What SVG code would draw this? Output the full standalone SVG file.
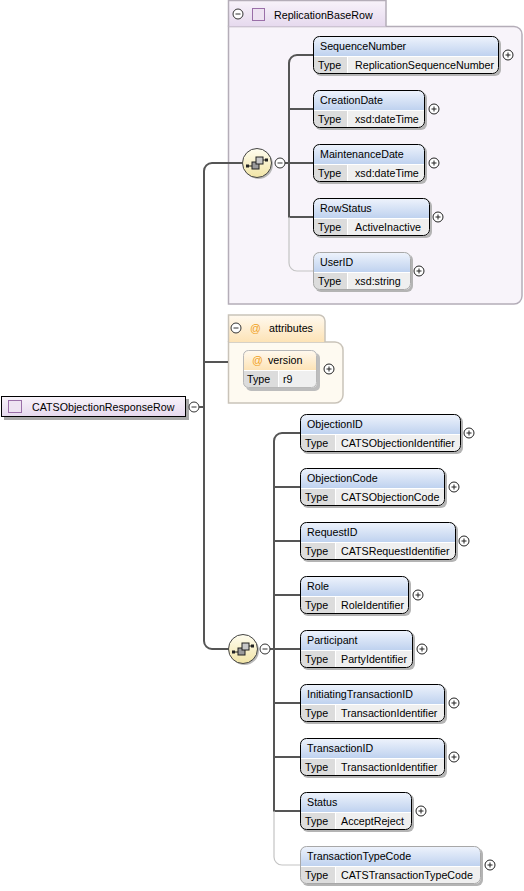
<svg xmlns="http://www.w3.org/2000/svg" width="524" height="891" viewBox="0 0 524 891">
<defs>
<linearGradient id="gHd" x1="0" y1="0" x2="0" y2="1"><stop offset="0" stop-color="#eef3fc"/><stop offset="1" stop-color="#bfd2ef"/></linearGradient>
<linearGradient id="gLav" x1="0" y1="0" x2="0" y2="1"><stop offset="0" stop-color="#f8f3fa"/><stop offset="1" stop-color="#e6d9ee"/></linearGradient>
<linearGradient id="gPeach" x1="0" y1="0" x2="0" y2="1"><stop offset="0" stop-color="#fff9ef"/><stop offset="1" stop-color="#fde3b6"/></linearGradient>
<linearGradient id="gSeq" x1="0" y1="0" x2="0" y2="1"><stop offset="0" stop-color="#fffdf0"/><stop offset="1" stop-color="#f1e4a6"/></linearGradient>
<g id="plus"><circle r="5" fill="#fff" stroke="#222" stroke-width="1"/><path d="M-2.5,0H2.5M0,-2.5V2.5" stroke="#222" stroke-width="1"/></g>
<g id="minus"><circle r="5" fill="#fff" stroke="#333" stroke-width="1"/><path d="M-2.5,0H2.5" stroke="#333" stroke-width="1"/></g>
<g id="seq">
<circle cx="1.5" cy="1.5" r="14.5" fill="#b8b8b8"/>
<circle r="14.5" fill="url(#gSeq)" stroke="#444" stroke-width="1"/>
<path d="M-10,3H-5M6,-3H10" stroke="#222" stroke-width="1.2"/>
<rect x="-11" y="1.5" width="3" height="3" fill="#222"/>
<rect x="8" y="-4.5" width="3" height="3" fill="#222"/>
<rect x="-5" y="-1" width="7" height="7" fill="#9a9a9a" stroke="#222" stroke-width="1"/>
<rect x="-1" y="-6" width="7" height="7" fill="#c8c8c8" stroke="#222" stroke-width="1"/>
</g>
</defs>
<style>
text{font-family:"Liberation Sans",Arial,sans-serif;font-size:10.7px;fill:#000}
.sh{fill:#b4b4b4}
.bg{fill:#efefef}
.hd{fill:url(#gHd)}
.tl{fill:#dcdcdc}
.ol{fill:none;stroke:#000;stroke-width:1}
.olo{fill:none;stroke:#a8a8a8;stroke-width:1}
.sep{stroke:#fff;stroke-width:1}
.cn{fill:none;stroke:#555;stroke-width:2}
.cnl{fill:none;stroke:#c4c4c4;stroke-width:1.2}
.at{fill:#f0a020}
</style>

<g id="CATSObjectionResponseRow">
<rect x="4" y="399" width="185" height="21" fill="#a8a8a8"/>
<rect x="1.5" y="396.5" width="184" height="20" fill="url(#gLav)" stroke="#000" stroke-width="1"/>
<rect x="8.5" y="400.5" width="13" height="12" fill="#eee3f2" stroke="#9a6fa8" stroke-width="1"/>
<text x="32" y="411">CATSObjectionResponseRow</text>
<use href="#minus" x="194" y="407"/>
</g>

<g id="ReplicationBaseRow">
<path d="M228.5,26.5H514A8,8 0 0 1 522,34.5V296A8,8 0 0 1 514,304H228.5Z" fill="#f8f4fa" stroke="#b4adb8" stroke-width="1.5"/>
<path d="M228.5,26.5V0.5H386V26.5" fill="url(#gLav)" stroke="#b4adb8" stroke-width="1.5"/>
<use href="#minus" x="238" y="14"/>
<rect x="252.5" y="8.5" width="12" height="12" fill="#eee3f2" stroke="#9a6fa8" stroke-width="1"/>
<text x="274" y="19">ReplicationBaseRow</text>
</g>

<g id="attributes">
<path d="M228.5,342H335A8,8 0 0 1 343,350V395A8,8 0 0 1 335,403H228.5Z" fill="#fefaf1" stroke="#c9c3b9" stroke-width="1.5"/>
<path d="M228.5,342V315H319A6,6 0 0 1 325,321V342" fill="url(#gPeach)" stroke="#c9c3b9" stroke-width="1.5"/>
<use href="#minus" x="236" y="328"/>
<text class="at" x="250" y="332">@</text>
<text x="269" y="332">attributes</text>
</g>

<g id="connectors">
<path class="cn" d="M243,163H212A8,8 0 0 0 204,171V641A8,8 0 0 0 212,649H229"/>
<path class="cn" d="M199,407H204M204,362H228"/>
<path class="cn" d="M313,55H297A8,8 0 0 0 289,63V217H313M289,109H313M285,163H313"/>
<path class="cnl" d="M289,217V263A8,8 0 0 0 297,271H313"/>
<path class="cn" d="M300,433H282A8,8 0 0 0 274,441V811H300M274,487H300M274,541H300M274,595H300M270,649H300M274,703H300M274,757H300"/>
<path class="cnl" d="M274,811V857A8,8 0 0 0 282,865H300"/>
</g>

<g id="seq1"><use href="#seq" x="257" y="163"/><use href="#minus" x="280" y="163"/></g>

<g id="SequenceNumber" transform="translate(313,36)">
<rect class="sh" x="2" y="2" width="186" height="38" rx="6"/>
<rect class="bg" width="186" height="38" rx="6"/>
<path class="hd" d="M0.5,20V6A5.5,5.5 0 0 1 6,0.5H180A5.5,5.5 0 0 1 185.5,6V20Z"/>
<path class="tl" d="M0.5,20H34V37.5H6A5.5,5.5 0 0 1 0.5,32Z"/>
<path class="sep" d="M1,20.5H185M34.5,21V37"/>
<rect class="ol" x="0.5" y="0.5" width="185" height="37" rx="6"/>
<text x="7" y="14">SequenceNumber</text><text x="5" y="33">Type</text><text x="42" y="33">ReplicationSequenceNumber</text>
<use href="#plus" x="195" y="19"/>
</g>

<g id="CreationDate" transform="translate(313,90)">
<rect class="sh" x="2" y="2" width="112" height="38" rx="6"/>
<rect class="bg" width="112" height="38" rx="6"/>
<path class="hd" d="M0.5,20V6A5.5,5.5 0 0 1 6,0.5H106A5.5,5.5 0 0 1 111.5,6V20Z"/>
<path class="tl" d="M0.5,20H34V37.5H6A5.5,5.5 0 0 1 0.5,32Z"/>
<path class="sep" d="M1,20.5H111M34.5,21V37"/>
<rect class="ol" x="0.5" y="0.5" width="111" height="37" rx="6"/>
<text x="7" y="14">CreationDate</text><text x="5" y="33">Type</text><text x="42" y="33">xsd:dateTime</text>
<use href="#plus" x="121" y="19"/>
</g>

<g id="MaintenanceDate" transform="translate(313,144)">
<rect class="sh" x="2" y="2" width="112" height="38" rx="6"/>
<rect class="bg" width="112" height="38" rx="6"/>
<path class="hd" d="M0.5,20V6A5.5,5.5 0 0 1 6,0.5H106A5.5,5.5 0 0 1 111.5,6V20Z"/>
<path class="tl" d="M0.5,20H34V37.5H6A5.5,5.5 0 0 1 0.5,32Z"/>
<path class="sep" d="M1,20.5H111M34.5,21V37"/>
<rect class="ol" x="0.5" y="0.5" width="111" height="37" rx="6"/>
<text x="7" y="14">MaintenanceDate</text><text x="5" y="33">Type</text><text x="42" y="33">xsd:dateTime</text>
<use href="#plus" x="121" y="19"/>
</g>

<g id="RowStatus" transform="translate(313,198)">
<rect class="sh" x="2" y="2" width="117" height="38" rx="6"/>
<rect class="bg" width="117" height="38" rx="6"/>
<path class="hd" d="M0.5,20V6A5.5,5.5 0 0 1 6,0.5H111A5.5,5.5 0 0 1 116.5,6V20Z"/>
<path class="tl" d="M0.5,20H34V37.5H6A5.5,5.5 0 0 1 0.5,32Z"/>
<path class="sep" d="M1,20.5H116M34.5,21V37"/>
<rect class="ol" x="0.5" y="0.5" width="116" height="37" rx="6"/>
<text x="7" y="14">RowStatus</text><text x="5" y="33">Type</text><text x="42" y="33">ActiveInactive</text>
<use href="#plus" x="125" y="19"/>
</g>

<g id="UserID" transform="translate(313,252)">
<rect class="sh" x="2" y="2" width="98" height="38" rx="6"/>
<rect class="bg" width="98" height="38" rx="6"/>
<path class="hd" d="M0.5,20V6A5.5,5.5 0 0 1 6,0.5H92A5.5,5.5 0 0 1 97.5,6V20Z"/>
<path class="tl" d="M0.5,20H34V37.5H6A5.5,5.5 0 0 1 0.5,32Z"/>
<path class="sep" d="M1,20.5H97M34.5,21V37"/>
<rect class="olo" x="0.5" y="0.5" width="97" height="37" rx="6"/>
<text x="7" y="14">UserID</text><text x="5" y="33">Type</text><text x="42" y="33">xsd:string</text>
<use href="#plus" x="106" y="19"/>
</g>

<g id="version" transform="translate(243,350)">
<rect x="3" y="3" width="74" height="38" rx="5" fill="#bdbdbd"/>
<rect class="bg" width="74" height="38" rx="5"/>
<path d="M0.5,20V5A4.5,4.5 0 0 1 5,0.5H68A5.5,5.5 0 0 1 73.5,6V20Z" fill="url(#gPeach)"/>
<path class="tl" d="M0.5,20H35V37.5H5A4.5,4.5 0 0 1 0.5,33Z"/>
<path class="sep" d="M1,20.5H73M35.5,21V37"/>
<rect x="0.5" y="0.5" width="73" height="37" rx="5" fill="none" stroke="#b8b8b8" stroke-width="1"/>
<text class="at" x="9" y="14">@</text><text x="25" y="14">version</text>
<text x="4" y="33">Type</text><text x="40" y="33">r9</text>
<use href="#plus" x="86" y="19"/>
</g>

<g id="seq2"><use href="#seq" x="243" y="649"/><use href="#minus" x="265" y="649"/></g>

<g id="ObjectionID" transform="translate(300,414)">
<rect class="sh" x="2" y="2" width="161" height="38" rx="6"/>
<rect class="bg" width="161" height="38" rx="6"/>
<path class="hd" d="M0.5,20V6A5.5,5.5 0 0 1 6,0.5H155A5.5,5.5 0 0 1 160.5,6V20Z"/>
<path class="tl" d="M0.5,20H35V37.5H6A5.5,5.5 0 0 1 0.5,32Z"/>
<path class="sep" d="M1,20.5H160M35.5,21V37"/>
<rect class="ol" x="0.5" y="0.5" width="160" height="37" rx="6"/>
<text x="7" y="14">ObjectionID</text><text x="5" y="33">Type</text><text x="41" y="33">CATSObjectionIdentifier</text>
<use href="#plus" x="169" y="19"/>
</g>

<g id="ObjectionCode" transform="translate(300,468)">
<rect class="sh" x="2" y="2" width="145" height="38" rx="6"/>
<rect class="bg" width="145" height="38" rx="6"/>
<path class="hd" d="M0.5,20V6A5.5,5.5 0 0 1 6,0.5H139A5.5,5.5 0 0 1 144.5,6V20Z"/>
<path class="tl" d="M0.5,20H35V37.5H6A5.5,5.5 0 0 1 0.5,32Z"/>
<path class="sep" d="M1,20.5H144M35.5,21V37"/>
<rect class="ol" x="0.5" y="0.5" width="144" height="37" rx="6"/>
<text x="7" y="14">ObjectionCode</text><text x="5" y="33">Type</text><text x="41" y="33">CATSObjectionCode</text>
<use href="#plus" x="154" y="19"/>
</g>

<g id="RequestID" transform="translate(300,522)">
<rect class="sh" x="2" y="2" width="156" height="38" rx="6"/>
<rect class="bg" width="156" height="38" rx="6"/>
<path class="hd" d="M0.5,20V6A5.5,5.5 0 0 1 6,0.5H150A5.5,5.5 0 0 1 155.5,6V20Z"/>
<path class="tl" d="M0.5,20H35V37.5H6A5.5,5.5 0 0 1 0.5,32Z"/>
<path class="sep" d="M1,20.5H155M35.5,21V37"/>
<rect class="ol" x="0.5" y="0.5" width="155" height="37" rx="6"/>
<text x="7" y="14">RequestID</text><text x="5" y="33">Type</text><text x="41" y="33">CATSRequestIdentifier</text>
<use href="#plus" x="164" y="19"/>
</g>

<g id="Role" transform="translate(300,576)">
<rect class="sh" x="2" y="2" width="109" height="38" rx="6"/>
<rect class="bg" width="109" height="38" rx="6"/>
<path class="hd" d="M0.5,20V6A5.5,5.5 0 0 1 6,0.5H103A5.5,5.5 0 0 1 108.5,6V20Z"/>
<path class="tl" d="M0.5,20H35V37.5H6A5.5,5.5 0 0 1 0.5,32Z"/>
<path class="sep" d="M1,20.5H108M35.5,21V37"/>
<rect class="ol" x="0.5" y="0.5" width="108" height="37" rx="6"/>
<text x="7" y="14">Role</text><text x="5" y="33">Type</text><text x="41" y="33">RoleIdentifier</text>
<use href="#plus" x="118" y="19"/>
</g>

<g id="Participant" transform="translate(300,630)">
<rect class="sh" x="2" y="2" width="113" height="38" rx="6"/>
<rect class="bg" width="113" height="38" rx="6"/>
<path class="hd" d="M0.5,20V6A5.5,5.5 0 0 1 6,0.5H107A5.5,5.5 0 0 1 112.5,6V20Z"/>
<path class="tl" d="M0.5,20H35V37.5H6A5.5,5.5 0 0 1 0.5,32Z"/>
<path class="sep" d="M1,20.5H112M35.5,21V37"/>
<rect class="ol" x="0.5" y="0.5" width="112" height="37" rx="6"/>
<text x="7" y="14">Participant</text><text x="5" y="33">Type</text><text x="41" y="33">PartyIdentifier</text>
<use href="#plus" x="122" y="19"/>
</g>

<g id="InitiatingTransactionID" transform="translate(300,684)">
<rect class="sh" x="2" y="2" width="145" height="38" rx="6"/>
<rect class="bg" width="145" height="38" rx="6"/>
<path class="hd" d="M0.5,20V6A5.5,5.5 0 0 1 6,0.5H139A5.5,5.5 0 0 1 144.5,6V20Z"/>
<path class="tl" d="M0.5,20H35V37.5H6A5.5,5.5 0 0 1 0.5,32Z"/>
<path class="sep" d="M1,20.5H144M35.5,21V37"/>
<rect class="ol" x="0.5" y="0.5" width="144" height="37" rx="6"/>
<text x="7" y="14">InitiatingTransactionID</text><text x="5" y="33">Type</text><text x="41" y="33">TransactionIdentifier</text>
<use href="#plus" x="154" y="19"/>
</g>

<g id="TransactionID" transform="translate(300,738)">
<rect class="sh" x="2" y="2" width="145" height="38" rx="6"/>
<rect class="bg" width="145" height="38" rx="6"/>
<path class="hd" d="M0.5,20V6A5.5,5.5 0 0 1 6,0.5H139A5.5,5.5 0 0 1 144.5,6V20Z"/>
<path class="tl" d="M0.5,20H35V37.5H6A5.5,5.5 0 0 1 0.5,32Z"/>
<path class="sep" d="M1,20.5H144M35.5,21V37"/>
<rect class="ol" x="0.5" y="0.5" width="144" height="37" rx="6"/>
<text x="7" y="14">TransactionID</text><text x="5" y="33">Type</text><text x="41" y="33">TransactionIdentifier</text>
<use href="#plus" x="154" y="19"/>
</g>

<g id="Status" transform="translate(300,792)">
<rect class="sh" x="2" y="2" width="112" height="38" rx="6"/>
<rect class="bg" width="112" height="38" rx="6"/>
<path class="hd" d="M0.5,20V6A5.5,5.5 0 0 1 6,0.5H106A5.5,5.5 0 0 1 111.5,6V20Z"/>
<path class="tl" d="M0.5,20H35V37.5H6A5.5,5.5 0 0 1 0.5,32Z"/>
<path class="sep" d="M1,20.5H111M35.5,21V37"/>
<rect class="ol" x="0.5" y="0.5" width="111" height="37" rx="6"/>
<text x="7" y="14">Status</text><text x="5" y="33">Type</text><text x="41" y="33">AcceptReject</text>
<use href="#plus" x="121" y="19"/>
</g>

<g id="TransactionTypeCode" transform="translate(300,846)">
<rect class="sh" x="2" y="2" width="181" height="38" rx="6"/>
<rect class="bg" width="181" height="38" rx="6"/>
<path class="hd" d="M0.5,20V6A5.5,5.5 0 0 1 6,0.5H175A5.5,5.5 0 0 1 180.5,6V20Z"/>
<path class="tl" d="M0.5,20H35V37.5H6A5.5,5.5 0 0 1 0.5,32Z"/>
<path class="sep" d="M1,20.5H180M35.5,21V37"/>
<rect class="olo" x="0.5" y="0.5" width="180" height="37" rx="6"/>
<text x="7" y="14">TransactionTypeCode</text><text x="5" y="33">Type</text><text x="41" y="33">CATSTransactionTypeCode</text>
<use href="#plus" x="190" y="19"/>
</g>
</svg>
